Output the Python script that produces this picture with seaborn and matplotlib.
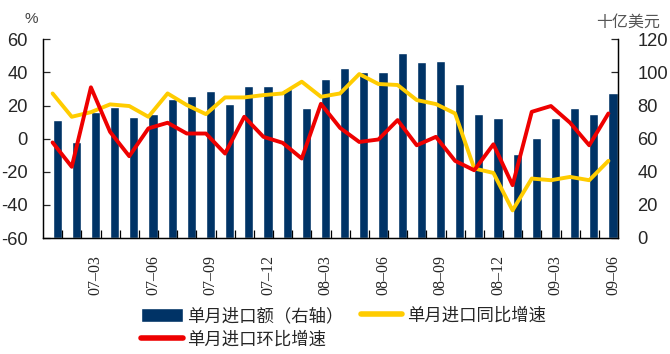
"""
China monthly imports: value (right axis) with YoY and MoM growth (left axis)
"""

import numpy as np
import pandas as pd
import seaborn as sns
import matplotlib.pyplot as plt
from matplotlib.ticker import FixedLocator

months = [
    "07-01", "07-02", "07-03", "07-04", "07-05", "07-06",
    "07-07", "07-08", "07-09", "07-10", "07-11", "07-12",
    "08-01", "08-02", "08-03", "08-04", "08-05", "08-06",
    "08-07", "08-08", "08-09", "08-10", "08-11", "08-12",
    "09-01", "09-02", "09-03", "09-04", "09-05", "09-06",
]
# single-month imports, billion USD (right axis)
imports = [
    71, 58, 76, 79, 73, 75, 84, 86, 89, 81, 92, 92,
    90, 78.5, 96, 102.5, 100, 100, 111.5, 106.5, 107, 93, 75, 72.5,
    51, 60.5, 72.5, 78.5, 75, 87.5,
]
# year-on-year growth, %
yoy = [
    27.3, 13.2, 16, 20.7, 19.7, 13.2, 27.3, 20.3, 14.8, 24.9, 24.9, 26.3,
    27.3, 34.4, 25.3, 27.3, 39, 33, 32.4, 23.3, 20.9, 15.2, -18, -20.7,
    -43.3, -24.1, -25.1, -23.1, -25.1, -13.4,
]
# month-on-month growth, %
mom = [
    -2.3, -17, 31, 4.1, -10.6, 6.2, 9.6, 3.1, 3.1, -9, 13.2, 1.1,
    -2.5, -12, 21, 6.5, -2, -0.5, 11.2, -4, 1.1, -13.4, -19.1, -3.4,
    -28.1, 16.2, 19.7, 9.6, -4, 15.2,
]

label_bar = "单月进口额（右轴）"
label_yoy = "单月进口同比增速"
label_mom = "单月进口环比增速"

NAVY = "#003366"
YELLOW = "#FFCC00"
RED = "#EE0000"
CJK = ["Noto Sans CJK SC", "DejaVu Sans"]

sns.set_style("ticks")
plt.rcParams["font.family"] = ["Liberation Sans", "Noto Sans CJK SC", "DejaVu Sans"]
plt.rcParams["axes.unicode_minus"] = False

n = len(months)
pos = np.arange(n)
df = pd.DataFrame({"pos": pos, "bar_pos": pos + 0.24,
                   "imports": imports, "yoy": yoy, "mom": mom})

fig = plt.figure(figsize=(6.7, 3.54), dpi=100)
ax = fig.add_axes([43 / 670, 1 - 238 / 354, 575 / 670, (238 - 39.3) / 354])
ax2 = ax.twinx()

sns.barplot(data=df, x="bar_pos", y="imports", native_scale=True, width=0.48,
            color=NAVY, saturation=1, ax=ax2, label=label_bar)
sns.lineplot(data=df, x="pos", y="yoy", ax=ax, color=YELLOW, lw=2.8,
             label=label_yoy, solid_joinstyle="round")
sns.lineplot(data=df, x="pos", y="mom", ax=ax, color=RED, lw=2.8,
             label=label_mom, solid_joinstyle="round")

ax.set_zorder(ax2.get_zorder() + 1)
ax.patch.set_visible(False)

ax.set_xlim(-0.5, n - 0.5)
ax.set_ylim(-60, 60)
ax2.set_ylim(0, 120)
ax.set_yticks(range(-60, 61, 20))
ax2.set_yticks(range(0, 121, 20))

lab_idx = list(range(2, n, 3))
ax.xaxis.set_major_locator(FixedLocator([i + 0.24 for i in lab_idx]))
ax.set_xticklabels([months[i].replace("-", "–") for i in lab_idx],
                   rotation=90, fontsize=11.5, family="Liberation Serif")
ax.xaxis.set_minor_locator(FixedLocator(list(np.arange(1, n) - 0.5)))
ax.tick_params(axis="x", which="major", length=0, pad=12)
ax.tick_params(axis="x", which="minor", direction="in", length=5.5, width=0.9, color="black")
ax.tick_params(axis="y", direction="in", length=5, width=0.9, labelsize=13.2, pad=11)
ax2.tick_params(axis="y", direction="in", length=5, width=0.9, labelsize=13.2, pad=14)

for a in (ax, ax2):
    a.set_xlabel("")
    a.set_ylabel("")
    a.spines["top"].set_visible(False)
    for s in ("left", "right", "bottom"):
        a.spines[s].set_linewidth(0.9)
        a.spines[s].set_color("black")

fig.text(31.5 / 670, 1 - 19 / 354, "%", fontsize=11, color="#444444",
         ha="center", va="center")
fig.text(628 / 670, 1 - 22 / 354, "十亿美元", fontsize=11.5, color="#555555",
         ha="center", va="center", family=CJK)

h1, l1 = ax2.get_legend_handles_labels()
h2, l2 = ax.get_legend_handles_labels()
for a in (ax, ax2):
    if a.get_legend() is not None:
        a.get_legend().remove()
handles = dict(zip(l1 + l2, h1 + h2))
leg = fig.legend([handles[label_bar], handles[label_mom], handles[label_yoy]],
                 [label_bar, label_mom, label_yoy],
                 loc="upper left", bbox_to_anchor=(141 / 670, 1 - 307 / 354),
                 ncol=2, frameon=False, borderpad=0, borderaxespad=0,
                 handlelength=2.4, handleheight=0.87, handletextpad=0.25,
                 columnspacing=1.0, labelspacing=0.3,
                 prop={"family": CJK, "size": 12.5})
for line in leg.get_lines():
    line.set_linewidth(4)
    line.set_solid_capstyle("round")

fig.savefig("out.png", dpi=100)
plt.close(fig)
print("Saved out.png")
